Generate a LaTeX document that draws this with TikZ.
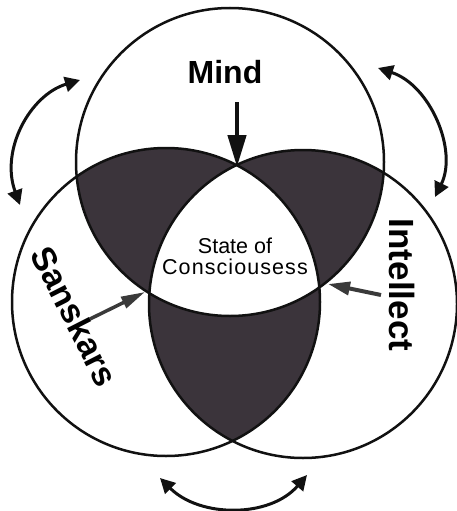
\documentclass[tikz,border=0pt]{standalone}
\usepackage{fontspec}
\setmainfont{Liberation Sans}
\usetikzlibrary{arrows.meta,calc}
\definecolor{lobe}{HTML}{3B343B}
\definecolor{ink}{HTML}{111111}
\definecolor{pointer}{HTML}{3A3A3A}

\tikzset{
  ring/.style={draw=ink, line width=2.5pt},
  swing/.style={draw=ink, line width=3pt, {Triangle[length=15pt,width=15pt]}-{Triangle[length=15pt,width=15pt]}},
  pointer/.style={draw=pointer, line width=4pt, -{Triangle[length=22pt,width=13pt]}},
  ringname/.style={inner sep=0pt, font=\bfseries\fontsize{#1}{#1}\selectfont}
}

\begin{document}
\begin{tikzpicture}[x=1pt,y=-1pt]
\useasboundingbox (0,0) rectangle (456,511);
\coordinate (ctop) at (230,162);
\coordinate (cleft) at (166,302);
\coordinate (cright) at (303,304);
\def\rr{154}

\begin{scope}
\clip (ctop) circle (\rr);
\fill[lobe] (cleft) circle (\rr);
\fill[lobe] (cright) circle (\rr);
\end{scope}
\begin{scope}
\clip (cleft) circle (\rr);
\fill[lobe] (cright) circle (\rr);
\end{scope}
\begin{scope}
\clip (ctop) circle (\rr);
\clip (cleft) circle (\rr);
\fill[white] (cright) circle (\rr);
\end{scope}
\draw[ring] (ctop) circle (\rr);
\draw[ring] (cleft) circle (\rr);
\draw[ring] (cright) circle (\rr);

\node[ringname=32] (mind) at (225,72) {Mind};
\node[ringname=34, rotate=-63] (sanskars) at (75,316) {Sanskars};
\node[ringname=35, rotate=-90] (intellect) at (402,285) {Intellect};
\node[align=center, inner sep=0pt, font=\fontsize{21.5}{21}\selectfont] (state) at (235,256)
  {State of\\{\addfontfeature{LetterSpace=5}Consciousess}};

\coordinate (mindtail) at (237,102);
\coordinate (mindtip) at (237,167);
\coordinate (sanstail) at (90,319);
\coordinate (sanstip) at (145,292);
\coordinate (inttail) at (381,295);
\coordinate (inttip) at (328,284);
\draw[pointer, draw=ink, line width=4.5pt, -{Triangle[length=32pt,width=18pt]}] (mindtail) -- (mindtip);
\draw[pointer, line width=3.5pt, -{Triangle[length=24pt,width=12pt]}] (sanstail) -- (sanstip);
\draw[pointer] (inttail) -- (inttip);

\coordinate (lefta) at (80,80);
\coordinate (leftb) at (20,205);
\coordinate (righta) at (378,68);
\coordinate (rightb) at (435,197);
\coordinate (bota) at (160,478);
\coordinate (botb) at (307,475);
\draw[swing] (leftb) .. controls (0,150) and (30,95) .. (lefta);
\draw[swing] (righta) .. controls (430,85) and (458,150) .. (rightb);
\draw[swing] (bota) .. controls (200,518) and (270,518) .. (botb);
\end{tikzpicture}
\end{document}
